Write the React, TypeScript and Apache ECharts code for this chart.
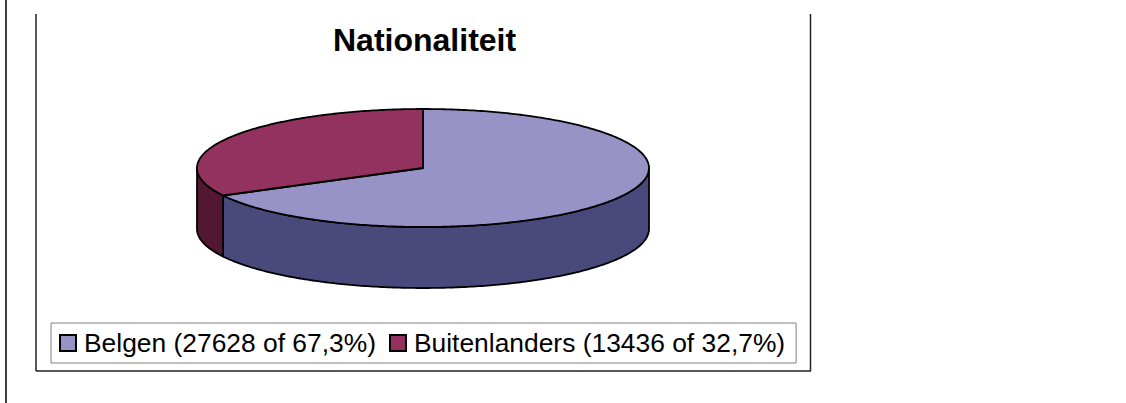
import React, { useEffect, useRef } from "react";
import * as echarts from "echarts";

const categories = ["Belgen", "Buitenlanders"];
const values = [27628, 13436];
const topColors = ["#9793C7", "#94325F"];
const sideColors = ["#4A497C", "#521832"];
const titleText = "Nationaliteit";

const FONT = "'Liberation Sans', Arial, sans-serif";

function arcPoints(cx: number, cy: number, rx: number, ry: number, a: number, b: number) {
  const pts: number[][] = [];
  const n = Math.max(2, Math.ceil(Math.abs(b - a) / (Math.PI / 240)) + 1);
  for (let k = 0; k < n; k++) {
    const t = a + ((b - a) * k) / (n - 1);
    pts.push([cx + rx * Math.cos(t), cy + ry * Math.sin(t)]);
  }
  return pts;
}

export default function App() {
  const ref = useRef<HTMLDivElement>(null);
  useEffect(() => {
    if (!ref.current) return;
    const chart = echarts.init(ref.current, null, { renderer: "svg" });
    const total = values.reduce((s, v) => s + v, 0);
    const cx = 423;
    const cy = 168;
    const rx = 226;
    const ry = 59;
    const depth = 61;

    const makeRender = (si: number) => (params: any, api: any) => {
      const v = api.value(0) as number;
      const before = values.slice(0, si).reduce((s, x) => s + x, 0);
      const start = (before / total) * Math.PI * 2 - Math.PI / 2;
      const end = start + (v / total) * Math.PI * 2;
      const children: any[] = [];
      const a = Math.max(start, 0);
      const b = Math.min(end, Math.PI);
      if (b > a) {
        const topArc = arcPoints(cx, cy, rx, ry, a, b);
        const botArc = arcPoints(cx, cy + depth, rx, ry, b, a);
        children.push({
          type: "polygon",
          z2: 1,
          shape: { points: topArc.concat(botArc) },
          style: { fill: sideColors[si], stroke: "#000", lineWidth: 1.8, lineJoin: "round" },
        });
      }
      const pts = [[cx, cy]].concat(arcPoints(cx, cy, rx, ry, start, end));
      children.push({
        type: "polygon",
        z2: 2,
        shape: { points: pts },
        style: { fill: topColors[si], stroke: "#000", lineWidth: 1.8, lineJoin: "round" },
      });
      return { type: "group", children };
    };

    const option: any = {
      animation: false,
      title: {
        text: titleText,
        left: 333,
        top: 24,
        padding: 0,
        textStyle: { fontFamily: FONT, fontWeight: "bold", fontSize: 32, color: "#000" },
      },
      legend: {
        left: 51,
        top: 323,
        orient: "horizontal",
        padding: [7, 11, 7, 8],
        itemWidth: 16,
        itemHeight: 16,
        itemGap: 13,
        icon: "rect",
        borderColor: "#808080",
        borderWidth: 1,
        data: categories,
        itemStyle: { borderColor: "#000", borderWidth: 2 },
        textStyle: { fontFamily: FONT, fontSize: 26.4, color: "#000", padding: [0, 0, 0, 3] },
        formatter: (name: string) => {
          const i = categories.indexOf(name);
          const pct = ((values[i] / total) * 100).toFixed(1).replace(".", ",");
          return `${name} (${values[i]} of ${pct}%)`;
        },
      },
      graphic: [
        { type: "line", shape: { x1: 6, y1: 0, x2: 6, y2: 403 }, style: { stroke: "#000", lineWidth: 1.5 } },
        { type: "line", shape: { x1: 36, y1: 14, x2: 36, y2: 371 }, style: { stroke: "#222", lineWidth: 1.5 } },
        { type: "line", shape: { x1: 36, y1: 371, x2: 811, y2: 371 }, style: { stroke: "#222", lineWidth: 1.5 } },
        { type: "line", shape: { x1: 810.5, y1: 14, x2: 810.5, y2: 371 }, style: { stroke: "#222", lineWidth: 1.5 } },
      ],
      series: categories.map((name, si) => ({
        type: "custom",
        name,
        coordinateSystem: "none",
        silent: true,
        itemStyle: { color: topColors[si] },
        data: [[values[si]]],
        renderItem: makeRender(si),
      })),
    };
    chart.setOption(option);
    return () => chart.dispose();
  }, []);
  return (
    <div
      ref={ref}
      style={{ position: "fixed", left: 0, top: 0, width: 1126, height: 403, background: "#fff" }}
    />
  );
}
